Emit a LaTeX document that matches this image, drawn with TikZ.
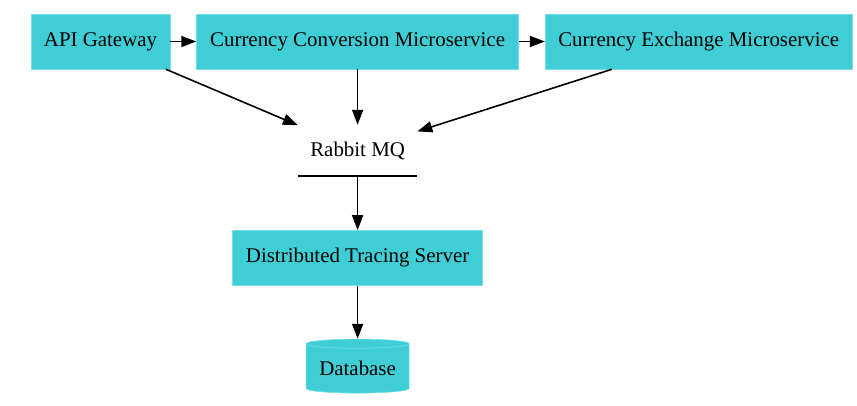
\documentclass[tikz,border=0pt]{standalone}
\usepackage{fontspec}
\setmainfont{Liberation Serif}
\usetikzlibrary{positioning,arrows.meta,shapes.geometric}
\definecolor{turq}{RGB}{64,206,214}
\definecolor{turqline}{RGB}{120,222,228}
\begin{document}
\begin{tikzpicture}[x=1pt,y=1pt]
  \tikzset{svc/.style={fill=turq,draw=turqline,line width=0.6pt,minimum height=\h,inner sep=0pt},
    link/.style={-{Triangle[length=15pt,width=11pt]},line width=1.6pt}}
  \def\h{55pt}\rmfamily\fontsize{20.9}{24}\selectfont
  \useasboundingbox (0,0) rectangle (857,406);
  \node[svc,minimum width=139pt] at (100.5,364.5) (GW) {API Gateway};
  \node[svc,minimum width=322pt,right=26pt of GW] (CONV) {Currency Conversion Microservice};
  \node[svc,minimum width=307pt,right=26pt of CONV] (EXCH) {Currency Exchange Microservice};
  \node[minimum width=119pt,minimum height=51pt,inner sep=0pt] at (CONV|-0,255.5) (MQ) {Rabbit MQ};
  \draw[line width=1.6pt] (MQ.south west) -- (MQ.south east);
  \node[svc,minimum width=250pt,below=54pt of MQ.south] (DTS) {Distributed Tracing Server};
  \node[cylinder,shape border rotate=90,aspect=0.12,fill=turq,draw=turqline,line width=0.6pt,
    minimum width=103pt,minimum height=54pt,inner sep=0pt,below=53pt of DTS] (DB) {Database};
  %links
  \draw[link] (GW) -- (CONV);
  \draw[link] (CONV) -- (EXCH);
  \draw[link] (GW) -- (MQ);
  \draw[link] (CONV) -- (MQ);
  \draw[link] (EXCH) -- (MQ);
  \draw[link] (MQ) -- (DTS);
  \draw[link] (DTS) -- (DB);
\end{tikzpicture}
\end{document}
